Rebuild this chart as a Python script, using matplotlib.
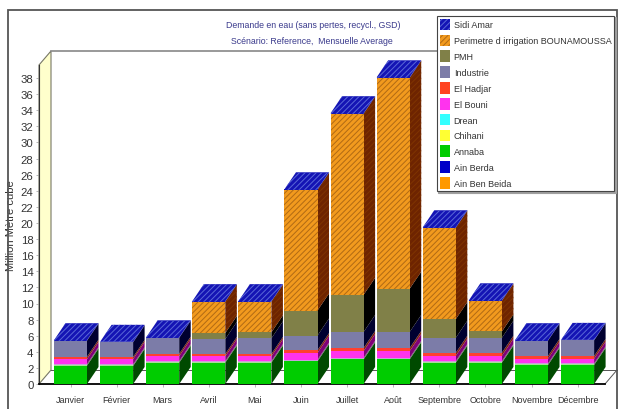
import numpy as np
import matplotlib
matplotlib.use('Agg')
import matplotlib.pyplot as plt
from matplotlib.patches import Patch, Polygon, Rectangle

months = ['Janvier', 'Février', 'Mars', 'Avril', 'Mai', 'Juin', 'Juillet', 'Août',
          'Septembre', 'Octobre', 'Novembre', 'Décembre']

ain_ben_beida = [0] * 12
ain_berda = [0] * 12
annaba = [2.28, 2.24, 2.65, 2.65, 2.65, 2.82, 3.06, 3.06, 2.65, 2.65, 2.36, 2.36]
chihani = [0.08] * 12
drean = [0.12] * 12
el_bouni = [0.62, 0.66, 0.62, 0.60, 0.60, 0.85, 0.84, 0.84, 0.66, 0.66, 0.59, 0.59]
el_hadjar = [0.29, 0.25, 0.29, 0.28, 0.28, 0.33, 0.37, 0.37, 0.37, 0.37, 0.33, 0.33]
industrie = [1.99, 1.83, 1.98, 1.86, 1.94, 1.82, 1.99, 1.99, 1.86, 1.86, 1.90, 1.94]
pmh = [0, 0, 0, 0.75, 0.75, 3.11, 4.62, 5.38, 2.32, 0.79, 0, 0]
perimetre = [0, 0, 0, 3.89, 3.81, 15.0, 22.5, 26.2, 11.35, 3.81, 0, 0]
sidi_amar = [0.06] * 12

# name, values, legend colour, bar colour, side colour, hatch colour (None = plain)
series = [
    ('Ain Ben Beida', ain_ben_beida, '#FF9900', '#FF9900', '#804C00', None),
    ('Ain Berda', ain_berda, '#0000C8', '#0000C8', '#000064', None),
    ('Annaba', annaba, '#00CC00', '#00CC00', '#004A00', None),
    ('Chihani', chihani, '#FFFF33', '#A8DC98', '#50703C', None),
    ('Drean', drean, '#33FFFF', '#C8A0D8', '#5A3868', None),
    ('El Bouni', el_bouni, '#FF33EE', '#FF33EE', '#800077', None),
    ('El Hadjar', el_hadjar, '#FF4422', '#FF4030', '#802211', None),
    ('Industrie', industrie, '#7C7CA8', '#7C7CA8', '#000030', None),
    ('PMH', pmh, '#808048', '#808048', '#000000', None),
    ('Perimetre d irrigation BOUNAMOUSSA', perimetre, '#F29A1E', '#F29A1E', '#6E2400', '#B06A14'),
    ('Sidi Amar', sidi_amar, '#1414B4', '#1414B4', '#00006E', '#5A68D8'),
]

W, H = 619, 410
X0, X1, Y0 = 39, 605, 385      # front plane of the chart, in pixels
PX_PER_UNIT = 8.05
YMAX = (Y0 - 66) / PX_PER_UNIT
BAR_WIDTH = 0.716
FLOOR_DX, FLOOR_DY = 12, 14    # wall and floor depth, pixels
BAR_DX, BAR_DY = 11.5, 17      # bar depth, pixels
HATCH = '//////'

plt.rcParams['font.family'] = 'Liberation Sans'
plt.rcParams['hatch.linewidth'] = 0.7

fig = plt.figure(figsize=(W / 100, H / 100), dpi=100, facecolor='white')
ax = fig.add_axes([X0 / W, 1 - Y0 / H, (X1 - X0) / W, YMAX * PX_PER_UNIT / H])
ax.set_xlim(-(70.5 - X0) / 46.1, (X1 - 70.5) / 46.1)
ax.set_ylim(0, YMAX)
ax.patch.set_visible(False)

dx_unit = BAR_DX / 46.1
dy_unit = BAR_DY / PX_PER_UNIT
wall_dx = FLOOR_DX / 46.1
wall_dy = FLOOR_DY / PX_PER_UNIT
xl, xr = ax.get_xlim()

# yellow wall on the left, floor and back edges
ax.add_patch(Polygon([(xl, 0), (xl + wall_dx, wall_dy), (xl + wall_dx, YMAX + wall_dy), (xl, YMAX)],
                     closed=True, facecolor='#FFFFCC', edgecolor='#777766', lw=0.8,
                     clip_on=False, zorder=1))
ax.plot([xl + wall_dx, 8.4], [YMAX + wall_dy] * 2, color='#888888', lw=1.2, clip_on=False, zorder=1)
ax.plot([xl + wall_dx, xr + wall_dx], [wall_dy] * 2, color='#555555', lw=0.7, clip_on=False, zorder=1)
ax.plot([xr, xr + wall_dx], [0, wall_dy], color='#555555', lw=0.7, clip_on=False, zorder=1)

# stacked bars: side and front of each segment, then the top face
x = np.arange(len(months))
bottom = np.zeros(len(months))
for name, values, legend_color, color, side, hatch in series:
    values = np.array(values, dtype=float)
    ax.bar(x, values, BAR_WIDTH, bottom=bottom, color=color, linewidth=0,
           hatch=HATCH if hatch else None, edgecolor=hatch if hatch else color, zorder=4)
    for i in x:
        if values[i] <= 0:
            continue
        right = i + BAR_WIDTH / 2
        ax.add_patch(Polygon([(right, bottom[i]), (right + dx_unit, bottom[i] + dy_unit),
                              (right + dx_unit, bottom[i] + values[i] + dy_unit),
                              (right, bottom[i] + values[i])],
                             closed=True, facecolor=side, linewidth=0, clip_on=False, zorder=3,
                             hatch=HATCH if name.startswith('Perimetre') else None,
                             edgecolor='#7F3400' if name.startswith('Perimetre') else side))
    bottom += values

top_color, top_hatch = series[-1][3], series[-1][5]
for i in x:
    left, right = i - BAR_WIDTH / 2, i + BAR_WIDTH / 2
    ax.add_patch(Polygon([(left, bottom[i]), (right, bottom[i]),
                          (right + dx_unit, bottom[i] + dy_unit), (left + dx_unit, bottom[i] + dy_unit)],
                         closed=True, facecolor=top_color, edgecolor=top_hatch, linewidth=0,
                         hatch=HATCH, clip_on=False, zorder=5))

ax.spines[['top', 'right']].set_visible(False)
ax.spines['left'].set_color('#333333')
ax.spines['bottom'].set_linewidth(1.3)
ax.spines['bottom'].set_color('black')

ax.set_yticks(np.arange(0, 39, 2))
ax.set_xticks(x)
ax.set_xticklabels(months, fontsize=6.5, color='#333333')
ax.tick_params(axis='x', length=2, width=0.5, color='#999999', pad=6)
ax.tick_params(axis='y', length=2, width=0.5, color='#999999', pad=2, labelsize=8.2, labelcolor='#333333')
ax.set_ylabel('Million Mètre cube', fontsize=8, color='#333333', y=0.5)
ax.yaxis.set_label_coords((16 - X0) / (X1 - X0), 0.5)

fig.text(313 / W, 1 - 26 / H, 'Demande en eau (sans pertes, recycl., GSD)', ha='center', va='center',
         fontsize=6.3, color='#3A3A8C')
fig.text(312 / W, 1 - 41 / H, 'Scénario: Reference,  Mensuelle Average', ha='center', va='center',
         fontsize=6.3, color='#3A3A8C')

# outer frame
fig.add_artist(Rectangle((8 / W, -0.01), 609 / W, 1.01 - 10.5 / H, transform=fig.transFigure,
                         facecolor='none', edgecolor='#555555', lw=1.3))

handles = [Patch(facecolor=s[2], edgecolor=s[5] if s[5] else s[2], linewidth=0,
                 hatch=HATCH if s[5] else None) for s in reversed(series)]
labels = [s[0] for s in reversed(series)]
leg = fig.legend(handles, labels, loc='upper left', bbox_to_anchor=(437 / W, 1 - 17 / H),
                 fontsize=6.5, frameon=True, fancybox=False, edgecolor='#444444',
                 facecolor='white', framealpha=1, borderaxespad=0, borderpad=0.3,
                 handlelength=1.1, handleheight=1.6, handletextpad=0.45, labelspacing=0.47,
                 labelcolor='#333333',
                 shadow={'ox': 1, 'oy': -1, 'facecolor': '#A0A0A0', 'edgecolor': '#A0A0A0', 'alpha': 1})
leg.get_frame().set_linewidth(0.8)
leg.set_zorder(10)

fig.savefig('out.png', dpi=100)
plt.close(fig)
